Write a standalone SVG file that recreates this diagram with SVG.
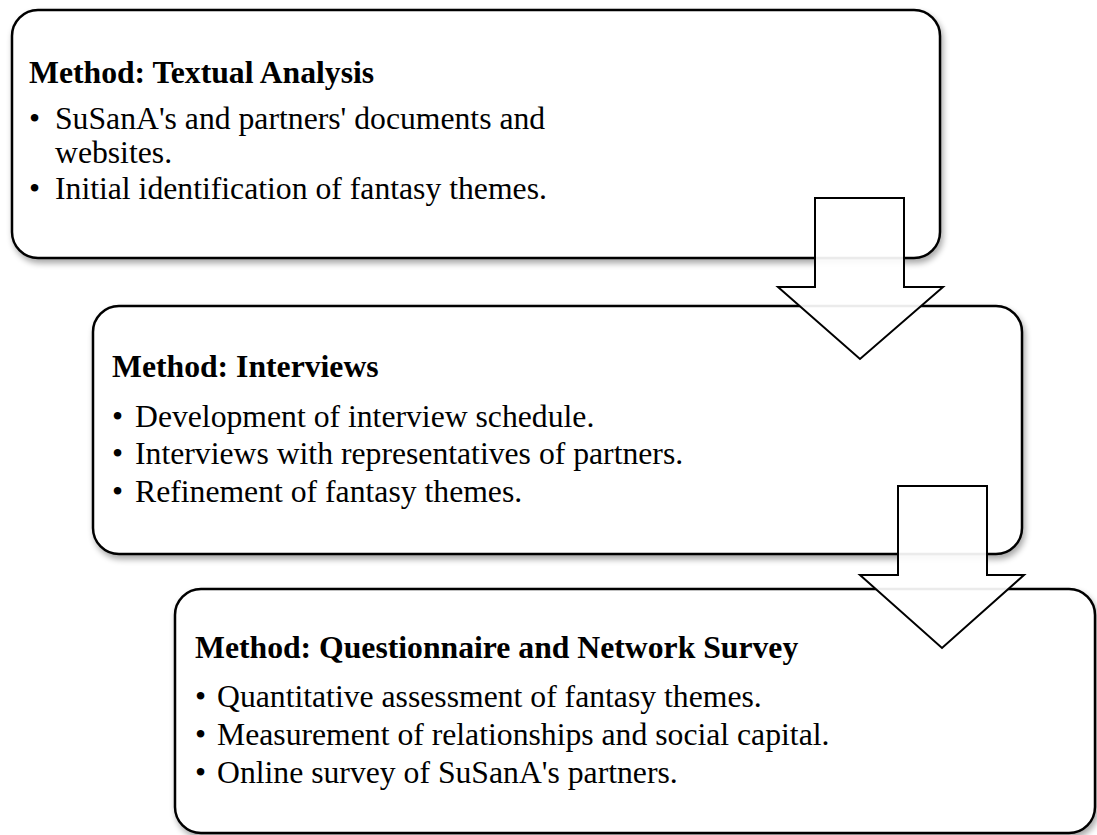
<svg xmlns="http://www.w3.org/2000/svg" width="1097" height="835" viewBox="0 0 1097 835">
<defs>
<filter id="sh" x="-5%" y="-5%" width="110%" height="115%">
<feGaussianBlur in="SourceAlpha" stdDeviation="3"/>
<feOffset dx="2" dy="4" result="b"/>
<feComponentTransfer><feFuncA type="linear" slope="0.35"/></feComponentTransfer>
<feMerge><feMergeNode/><feMergeNode in="SourceGraphic"/></feMerge>
</filter>
</defs>
<style>
.box{fill:#fff;stroke:#000;stroke-width:2.5}
.arr{fill:#fff;fill-opacity:0.92;stroke:#000;stroke-width:2}
.h{font-family:"Liberation Serif","Times New Roman",serif;font-weight:bold;font-size:31.7px;fill:#000}
.t{font-family:"Liberation Serif","Times New Roman",serif;font-size:31.7px;fill:#000}
</style>
<rect width="1097" height="835" fill="#fff"/>
<g id="node1">
<rect class="box" x="12" y="10" width="928" height="248" rx="26" filter="url(#sh)"/>
<text class="h" x="29" y="83">Method: Textual Analysis</text>
<text class="t" x="29" y="129">•</text><text class="t" x="55" y="129">SuSanA's and partners' documents and</text>
<text class="t" x="55" y="163">websites.</text>
<text class="t" x="29" y="199">•</text><text class="t" x="55" y="199">Initial identification of fantasy themes.</text>
</g>
<g id="node2">
<rect class="box" x="93" y="306" width="929" height="248" rx="26" filter="url(#sh)"/>
<text class="h" x="112" y="377">Method: Interviews</text>
<text class="t" x="112" y="427">•</text><text class="t" x="135" y="427">Development of interview schedule.</text>
<text class="t" x="112" y="464">•</text><text class="t" x="135" y="464">Interviews with representatives of partners.</text>
<text class="t" x="112" y="502">•</text><text class="t" x="135" y="502">Refinement of fantasy themes.</text>
</g>
<g id="node3">
<rect class="box" x="175" y="589" width="920" height="244" rx="26" filter="url(#sh)"/>
<text class="h" x="195" y="658">Method: Questionnaire and Network Survey</text>
<text class="t" x="195" y="707">•</text><text class="t" x="217" y="707">Quantitative assessment of fantasy themes.</text>
<text class="t" x="195" y="745">•</text><text class="t" x="217" y="745">Measurement of relationships and social capital.</text>
<text class="t" x="195" y="783">•</text><text class="t" x="217" y="783">Online survey of SuSanA's partners.</text>
</g>
<g id="connectors">
<polygon class="arr" points="815,198 904,198 904,287 943,287 860,359 778,287 815,287"/>
<polygon class="arr" points="898,486 987,486 987,575 1024,575 942,648 860,575 898,575"/>
</g>
</svg>
